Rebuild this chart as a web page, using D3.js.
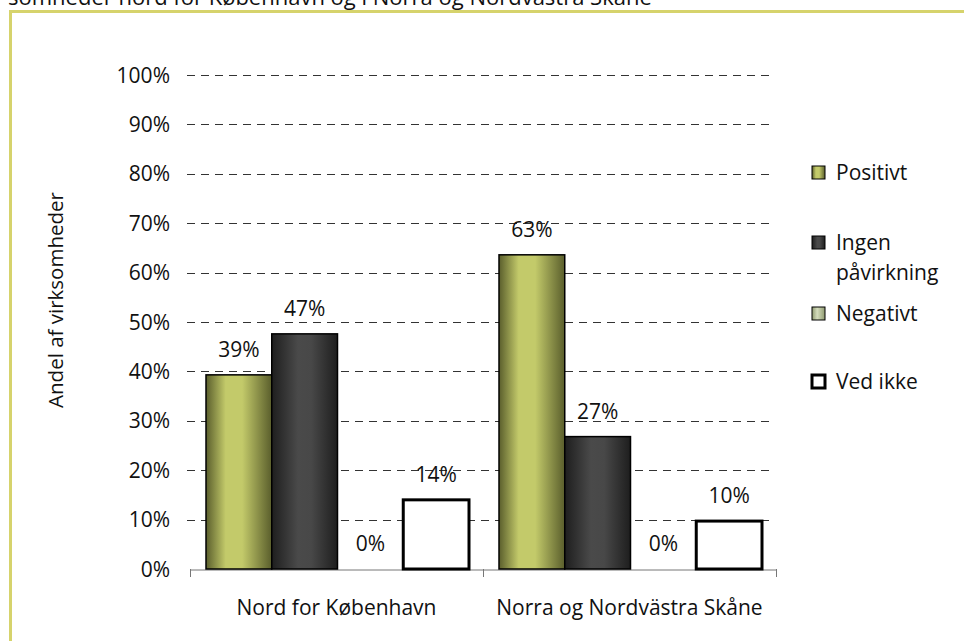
<!DOCTYPE html>
<html>
<head>
<meta charset="utf-8">
<title>Andel af virksomheder</title>
<script src="https://cdn.jsdelivr.net/npm/d3@7"></script>
<style>
  body { margin: 0; background: #fff; }
  text { font-family: "Open Sans", "DejaVu Sans", sans-serif; fill: #111; }
</style>
</head>
<body>
<svg width="964" height="641"></svg>
<script>
    // data
    var categories = ["Nord for København", "Norra og Nordvästra Skåne"];
    var seriesNames = ["Positivt", "Ingen påvirkning", "Negativt", "Ved ikke"];
    var positivt = [0.393, 0.636];
    var ingen = [0.476, 0.268];
    var negativt = [0, 0];
    var vedIkke = [0.14, 0.097];
    var valueLabels = [["39%", "47%", "0%", "14%"], ["63%", "27%", "0%", "10%"]];
    var yTicks = [0, 0.1, 0.2, 0.3, 0.4, 0.5, 0.6, 0.7, 0.8, 0.9, 1];

    var seriesValues = [positivt, ingen, negativt, vedIkke];

    var svg = d3.select("svg");
    var defs = svg.append("defs");

    // bar gradients
    function hGrad(id, stops) {
        var g = defs.append("linearGradient").attr("id", id)
            .attr("x1", "0%").attr("x2", "100%").attr("y1", "0%").attr("y2", "0%");
        stops.forEach(function (s) {
            g.append("stop").attr("offset", s[0]).attr("stop-color", s[1]);
        });
    }
    hGrad("gPos", [["0%", "#5a5e2c"], ["30%", "#c3ca6a"], ["55%", "#c3ca6a"], ["100%", "#5a5e2c"]]);
    hGrad("gIng", [["0%", "#1e1e1e"], ["40%", "#4a4a4a"], ["60%", "#484848"], ["100%", "#1e1e1e"]]);
    hGrad("gNeg", [["0%", "#8f9a70"], ["40%", "#d4dcbc"], ["100%", "#8f9a70"]]);
    var fills = ["url(#gPos)", "url(#gIng)", "url(#gNeg)", "#fff"];
    var legendFills = ["url(#gPos)", "url(#gIng)", "url(#gNeg)", "#fff"];

    // frame + cut-off title (the title line runs off the top edge in the source)
    svg.append("text")
        .attr("x", 8).attr("y", 5)
        .style("font-size", "22px")
        .text("somheder nord for København og i Norra og Nordvästra Skåne");
    svg.append("path")
        .attr("d", "M10.5,660 L10.5,11.5 L980,11.5")
        .attr("fill", "none")
        .attr("stroke", "#d6d36c")
        .attr("stroke-width", 3);

    var margin = {left: 190, right: 776, top: 75, bottom: 569};

    var x = d3.scaleBand().domain(categories).range([margin.left, margin.right]);
    var xs = d3.scaleBand().domain(seriesNames).range([16, x.bandwidth() - 14]);
    var y = d3.scaleLinear().domain([0, 1]).range([margin.bottom, margin.top]);

    // gridlines
    svg.append("g").selectAll("line")
        .data(yTicks.filter(function (t) { return t > 0; }))
        .enter().append("line")
        .attr("x1", margin.left - 3).attr("x2", margin.right - 3)
        .attr("y1", function (d) { return Math.round(y(d)) + 0.5; })
        .attr("y2", function (d) { return Math.round(y(d)) + 0.5; })
        .attr("stroke", "#333")
        .attr("stroke-dasharray", "8,6");

    // y tick labels
    svg.append("g").selectAll("text")
        .data(yTicks)
        .enter().append("text")
        .attr("x", 170)
        .attr("y", function (d) { return y(d); })
        .attr("dy", "0.36em")
        .attr("text-anchor", "end")
        .style("font-size", "21px")
        .text(function (d) { return Math.round(d * 100) + "%"; });

    // x axis
    var xAxis = d3.axisBottom(x).tickSize(0).tickFormat("");
    svg.append("g")
        .attr("transform", "translate(0," + (margin.bottom + 0.5) + ")")
        .call(xAxis)
        .select(".domain").attr("stroke", "#777");
    var boundaries = [margin.left, margin.left + x.bandwidth(), margin.right];
    svg.append("g").selectAll("line")
        .data(boundaries)
        .enter().append("line")
        .attr("x1", function (d) { return d + 0.5; })
        .attr("x2", function (d) { return d + 0.5; })
        .attr("y1", margin.bottom)
        .attr("y2", margin.bottom + 8)
        .attr("stroke", "#777");

    // bars
    var groups = svg.append("g").selectAll("g")
        .data(categories)
        .enter().append("g")
        .attr("transform", function (d) { return "translate(" + x(d) + ",0)"; });

    groups.each(function (cat, ci) {
        var g = d3.select(this);
        seriesNames.forEach(function (s, si) {
            var v = seriesValues[si][ci];
            if (v > 0) {
                g.append("rect")
                    .attr("x", xs(s))
                    .attr("y", y(v))
                    .attr("width", xs.bandwidth())
                    .attr("height", y(0) - y(v))
                    .attr("fill", fills[si])
                    .attr("stroke", "#000")
                    .attr("stroke-width", si === 3 ? 3 : 1.5);
            }
            g.append("text")
                .attr("x", xs(s) + xs.bandwidth() / 2)
                .attr("y", y(v) - 18)
                .attr("text-anchor", "middle")
                .style("font-size", "21px")
                .text(valueLabels[ci][si]);
        });
    });

    // category labels
    svg.append("g").selectAll("text")
        .data(categories)
        .enter().append("text")
        .attr("x", function (d) { return x(d) + x.bandwidth() / 2; })
        .attr("y", 615)
        .attr("text-anchor", "middle")
        .style("font-size", "21px")
        .text(function (d) { return d; });

    // y title
    svg.append("text")
        .attr("transform", "translate(63,300) rotate(-90)")
        .attr("text-anchor", "middle")
        .style("font-size", "20.5px")
        .text("Andel af virksomheder");

    // legend
    var legendY = [172, 242, 313, 381];
    var legend = svg.append("g").selectAll("g")
        .data(seriesNames)
        .enter().append("g")
        .attr("transform", function (d, i) { return "translate(812," + legendY[i] + ")"; });
    legend.append("rect")
        .attr("x", 0).attr("y", -6)
        .attr("width", 13).attr("height", 13)
        .attr("fill", function (d, i) { return legendFills[i]; })
        .attr("stroke", "#000")
        .attr("stroke-width", function (d, i) { return i === 3 ? 3 : 1; });
    legend.append("text")
        .attr("x", 24).attr("y", 0)
        .style("font-size", "21px")
        .each(function (d) {
            var t = d3.select(this);
            var parts = d === "Ingen påvirkning" ? ["Ingen", "påvirkning"] : [d];
            parts.forEach(function (p, k) {
                t.append("tspan").attr("x", 24).attr("dy", k === 0 ? "0.36em" : "1.45em").text(p);
            });
        });
</script>
</body>
</html>
